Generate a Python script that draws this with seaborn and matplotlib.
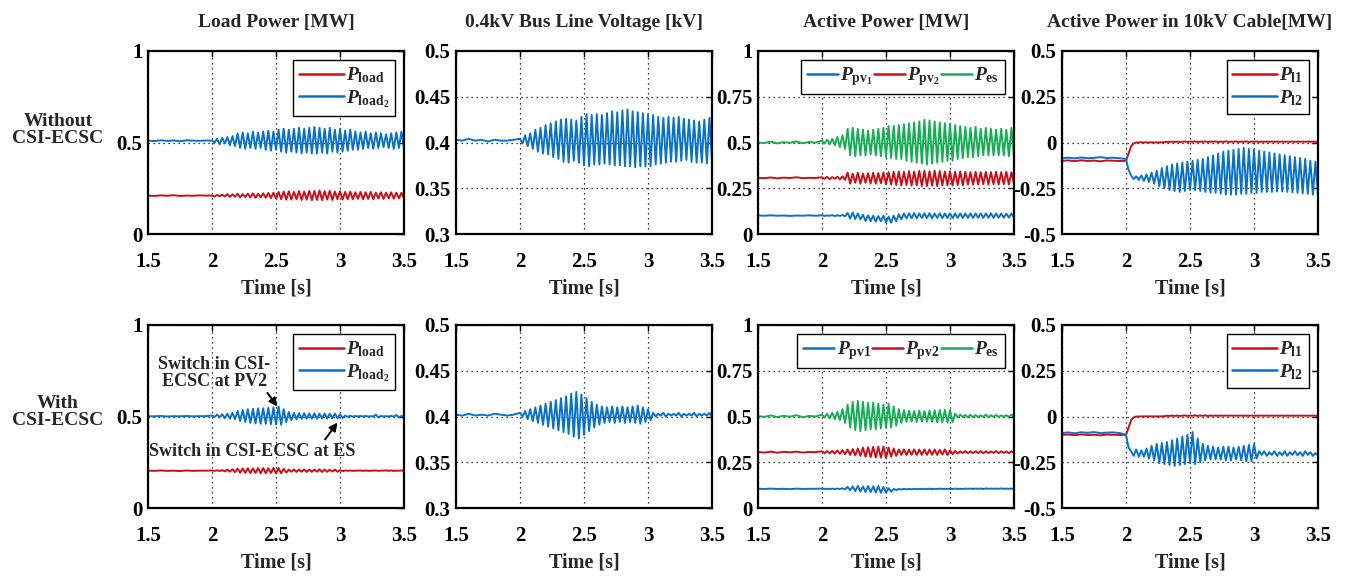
import numpy as np
import pandas as pd
import matplotlib
matplotlib.use("Agg")
import matplotlib.pyplot as plt
import seaborn as sns

# ---------------- data ----------------
T_PRE = [1.50, 1.55, 1.60, 1.65, 1.70, 1.75, 1.80, 1.85, 1.90, 1.95]
T_OSC = list(np.round(np.arange(2.00, 3.5001, 0.02), 3))  # sample times 2.00 ... 3.50

# ---- top row: without CSI-ECSC ----
top_load_pre = [.21, .208, .211, .209, .212, .208, .21, .209, .211, .21]
top_load = [.21, .205, .213, .207, .215, .205, .218, .203, .217, .204,
            .22, .2, .218, .202, .22, .2, .222, .198, .22, .2,
            .222, .198, .224, .196, .226, .193, .23, .19, .232, .188,
            .233, .188, .23, .19, .235, .186, .232, .188, .236, .185,
            .235, .186, .238, .185, .234, .188, .236, .186, .232, .19,
            .234, .188, .23, .19, .232, .19, .228, .192, .23, .19,
            .228, .192, .23, .19, .226, .194, .228, .192, .226, .195,
            .228, .193, .226, .195, .225, .196]
top_load2_pre = [.51, .508, .512, .509, .511, .507, .512, .51, .509, .511]
top_load2 = [.51, .50, .52, .49, .525, .495, .53, .485, .535, .48,
             .55, .47, .555, .465, .55, .47, .56, .465, .555, .47,
             .56, .46, .565, .455, .56, .46, .57, .45, .575, .445,
             .57, .45, .575, .445, .58, .44, .575, .445, .58, .44,
             .585, .44, .58, .445, .575, .44, .58, .45, .57, .445,
             .575, .45, .565, .455, .57, .46, .56, .46, .555, .465,
             .56, .47, .55, .465, .555, .47, .55, .475, .545, .47,
             .55, .465, .555, .47, .56, .47]
top_volt_pre = [.403, .402, .404, .402, .403, .401, .403, .402, .402, .403]
top_volt = [.404, .399, .408, .396, .41, .393, .414, .39, .416, .388,
            .419, .387, .421, .384, .423, .382, .425, .379, .426, .378,
            .425, .38, .424, .378, .428, .375, .431, .374, .43, .376,
            .431, .376, .43, .377, .432, .376, .434, .375, .433, .375,
            .435, .374, .436, .374, .434, .373, .433, .374, .432, .374,
            .431, .374, .43, .376, .428, .377, .427, .378, .428, .379,
            .427, .379, .428, .38, .426, .381, .425, .379, .424, .378,
            .423, .378, .425, .377, .427, .379]
top_pv1_pre = [.101, .1, .102, .1, .101, .099, .101, .1, .102, .1]
top_pv1 = [.102, .099, .101, .1, .103, .098, .102, .099, .104, .097,
           .115, .085, .118, .082, .112, .08, .105, .072, .102, .07,
           .1, .068, .098, .07, .1, .065, .095, .062, .1, .07,
           .108, .08, .112, .085, .113, .087, .114, .086, .112, .088,
           .113, .087, .114, .086, .112, .088, .113, .087, .112, .088,
           .113, .087, .112, .088, .113, .087, .112, .088, .113, .088,
           .112, .089, .113, .088, .112, .089, .113, .088, .112, .089,
           .112, .089, .111, .09, .112, .09]
top_pv2_pre = [.307, .305, .309, .304, .308, .306, .31, .305, .307, .306]
top_pv2 = [.31, .302, .312, .3, .311, .302, .313, .298, .315, .296,
           .335, .275, .33, .28, .335, .275, .33, .28, .332, .276,
           .335, .275, .333, .277, .336, .272, .338, .27, .34, .268,
           .342, .265, .34, .268, .344, .264, .342, .266, .345, .262,
           .345, .262, .343, .264, .346, .262, .344, .265, .342, .266,
           .343, .265, .34, .268, .342, .266, .34, .27, .338, .27,
           .34, .27, .338, .272, .34, .27, .338, .272, .34, .27,
           .338, .272, .34, .27, .338, .275]
top_es_pre = [.5, .497, .505, .495, .502, .498, .506, .496, .503, .499]
top_es = [.51, .495, .515, .49, .52, .485, .53, .475, .54, .465,
          .575, .43, .58, .425, .575, .43, .57, .43, .565, .435,
          .57, .43, .575, .425, .58, .42, .59, .415, .59, .41,
          .595, .41, .6, .4, .605, .395, .61, .39, .615, .385,
          .625, .38, .62, .385, .615, .39, .61, .395, .605, .4,
          .6, .4, .595, .41, .59, .415, .585, .42, .58, .42,
          .585, .425, .575, .43, .58, .43, .575, .43, .57, .43,
          .575, .43, .57, .425, .58, .425]
top_l1_pre = [-.1, -.098, -.102, -.097, -.101, -.099, -.103, -.098, -.1, -.101]
top_l1 = [-.1, -.06, -.02, -.005, 0, 0, .001, 0, .001, 0,
          .001, 0, .001, 0, .001, .002, .004, .003, .005, .003,
          .005, .003, .004, .006, .003, .005, .004, .006, .003, .005,
          .004, .006, .003, .005, .004, .006, .003, .005, .004, .006,
          .003, .005, .004, .006, .003, .005, .004, .006, .003, .005,
          .004, .006, .003, .005, .004, .005, .004, .005, .004, .005,
          .004, .005, .004, .005, .004, .005, .004, .005, .004, .005,
          .004, .005, .004, .005, .004, .005]
top_l2_pre = [-.085, -.083, -.087, -.082, -.086, -.084, -.08, -.085, -.083, -.086]
top_l2 = [-.09, -.15, -.18, -.2, -.185, -.205, -.18, -.21, -.175, -.215,
          -.165, -.225, -.155, -.24, -.14, -.25, -.13, -.26, -.12, -.265,
          -.115, -.27, -.11, -.265, -.105, -.26, -.1, -.26, -.095, -.265,
          -.09, -.27, -.08, -.275, -.07, -.275, -.06, -.28, -.05, -.285,
          -.045, -.285, -.04, -.285, -.035, -.28, -.03, -.28, -.035, -.275,
          -.04, -.275, -.045, -.27, -.05, -.27, -.055, -.27, -.06, -.268,
          -.065, -.268, -.07, -.27, -.075, -.272, -.08, -.275, -.085, -.278,
          -.09, -.28, -.1, -.285, -.105, -.285]

# ---- bottom row: with CSI-ECSC ----
bot_load_pre = [.204, .203, .205, .203, .204, .202, .205, .203, .204, .204]
bot_load = [.205, .203, .206, .202, .207, .2, .21, .198, .212, .196,
            .215, .193, .216, .192, .217, .191, .216, .192, .218, .19,
            .218, .19, .217, .191, .219, .189, .218, .19, .214, .194,
            .21, .198, .211, .197, .21, .198, .211, .197, .21, .198,
            .21, .198, .211, .197, .21, .198, .209, .199, .21, .198,
            .207, .201, .205, .203, .205, .203, .204, .204, .205, .203,
            .205, .203, .204, .204, .205, .203, .204, .204, .206, .203,
            .205, .203, .204, .204, .205, .203]
bot_load2_pre = [.502, .501, .503, .5, .502, .501, .503, .501, .502, .502]
bot_load2 = [.505, .498, .51, .495, .512, .49, .515, .488, .52, .485,
             .53, .475, .535, .47, .54, .465, .542, .462, .545, .46,
             .545, .46, .548, .458, .55, .456, .556, .455, .54, .47,
             .525, .48, .52, .485, .518, .487, .518, .488, .517, .488,
             .517, .488, .516, .489, .516, .489, .515, .49, .516, .49,
             .512, .492, .505, .498, .504, .499, .503, .5, .503, .5,
             .503, .5, .502, .5, .51, .495, .503, .5, .502, .5,
             .503, .499, .508, .496, .503, .5]
bot_volt_pre = [.402, .401, .403, .401, .402, .401, .403, .402, .401, .402]
bot_volt = [.404, .4, .406, .397, .408, .395, .41, .393, .412, .391,
            .414, .389, .416, .387, .418, .385, .42, .383, .422, .381,
            .425, .378, .427, .376, .424, .38, .42, .384, .416, .388,
            .413, .391, .411, .393, .41, .394, .411, .393, .41, .394,
            .411, .393, .41, .394, .411, .393, .412, .392, .41, .394,
            .408, .396, .404, .4, .403, .401, .404, .4, .403, .401,
            .403, .401, .404, .4, .403, .401, .403, .401, .404, .4,
            .403, .401, .403, .401, .404, .4]
bot_pv1_pre = [.105, .104, .106, .104, .105, .103, .106, .104, .105, .105]
bot_pv1 = [.106, .104, .105, .104, .106, .103, .106, .104, .107, .103,
           .115, .097, .118, .093, .12, .09, .118, .088, .12, .087,
           .118, .085, .12, .083, .115, .085, .108, .09, .104, .098,
           .104, .101, .105, .102, .104, .102, .105, .103, .105, .103,
           .105, .103, .106, .103, .105, .104, .106, .104, .105, .104,
           .105, .104, .106, .104, .105, .104, .106, .105, .106, .104,
           .106, .105, .106, .104, .107, .105, .106, .105, .106, .105,
           .107, .105, .106, .105, .106, .105]
bot_pv2_pre = [.306, .303, .308, .302, .307, .304, .308, .303, .306, .305]
bot_pv2 = [.31, .3, .311, .299, .312, .298, .314, .296, .316, .294,
           .32, .29, .322, .288, .325, .285, .33, .28, .332, .278,
           .334, .276, .335, .275, .336, .274, .33, .28, .325, .285,
           .32, .29, .32, .29, .319, .291, .32, .29, .319, .291,
           .32, .29, .319, .291, .32, .29, .318, .292, .32, .29,
           .316, .294, .312, .298, .31, .3, .311, .299, .31, .3,
           .31, .3, .311, .299, .31, .3, .309, .301, .311, .3,
           .31, .301, .309, .3, .31, .3]
bot_es_pre = [.502, .498, .506, .497, .504, .499, .507, .496, .503, .5]
bot_es = [.51, .495, .515, .49, .52, .485, .525, .48, .54, .465,
          .565, .44, .58, .425, .585, .42, .58, .425, .575, .43,
          .575, .43, .57, .435, .565, .44, .57, .44, .555, .45,
          .54, .465, .535, .47, .532, .472, .53, .47, .532, .472,
          .53, .472, .532, .47, .534, .468, .535, .468, .537, .466,
          .535, .47, .515, .495, .51, .497, .508, .496, .51, .495,
          .508, .497, .506, .498, .51, .496, .507, .498, .508, .497,
          .506, .499, .507, .498, .51, .497]
bot_l1_pre = [-.1, -.099, -.102, -.098, -.101, -.1, -.103, -.099, -.1, -.101]
bot_l1 = [-.1, -.06, -.02, -.005, 0, 0, .001, 0, .001, 0,
          .001, 0, .001, 0, .001, .002, .004, .003, .005, .003,
          .005, .003, .004, .006, .003, .005, .004, .006, .003, .005,
          .004, .006, .003, .005, .004, .005, .004, .005, .004, .005,
          .004, .005, .004, .005, .004, .005, .004, .005, .004, .005,
          .004, .005, .004, .005, .004, .005, .004, .005, .004, .005,
          .004, .005, .004, .005, .004, .005, .004, .005, .004, .005,
          .004, .005, .004, .005, .004, .005]
bot_l2_pre = [-.09, -.087, -.092, -.086, -.089, -.085, -.091, -.088, -.087, -.09]
bot_l2 = [-.1, -.17, -.19, -.215, -.18, -.22, -.185, -.22, -.175, -.23,
          -.16, -.24, -.15, -.255, -.145, -.26, -.14, -.265, -.13, -.27,
          -.12, -.265, -.11, -.26, -.1, -.255, -.085, -.26, -.12, -.25,
          -.15, -.24, -.16, -.235, -.165, -.235, -.17, -.235, -.165, -.24,
          -.165, -.24, -.17, -.235, -.165, -.24, -.16, -.245, -.155, -.245,
          -.15, -.23, -.19, -.21, -.19, -.215, -.195, -.21, -.19, -.215,
          -.195, -.212, -.19, -.215, -.195, -.21, -.19, -.212, -.195, -.215,
          -.19, -.21, -.195, -.215, -.2, -.212]

TITLES = ["Load Power [MW]", "0.4kV Bus Line Voltage [kV]",
          "Active Power [MW]", "Active Power in 10kV Cable[MW]"]
ROW_LABELS = ["Without\nCSI-ECSC", "With\nCSI-ECSC"]
X_TICKS = [1.5, 2, 2.5, 3, 3.5]
X_TICKLABELS = ["1.5", "2", "2.5", "3", "3.5"]
Y_TICKS = [[0, 0.5, 1], [0.3, 0.35, 0.4, 0.45, 0.5],
           [0, 0.25, 0.5, 0.75, 1], [-0.5, -0.25, 0, 0.25, 0.5]]
Y_TICKLABELS = [["0", "0.5", "1"], ["0.3", "0.35", "0.4", "0.45", "0.5"],
                ["0", "0.25", "0.5", "0.75", "1"], ["-0.5", "-0.25", "0", "0.25", "0.5"]]

# ---------------- style ----------------
sns.set_style("white")
plt.rcParams["font.family"] = ["Liberation Serif", "DejaVu Serif"]
plt.rcParams["font.weight"] = "bold"
plt.rcParams["mathtext.fontset"] = "custom"
plt.rcParams["mathtext.rm"] = "Liberation Serif:bold"
plt.rcParams["mathtext.bf"] = "Liberation Serif:bold"
plt.rcParams["mathtext.it"] = "Liberation Serif:italic:bold"

BLUE = "#0A72C4"
RED = "#C8101A"
GREEN = "#17AD55"

fig = plt.figure(figsize=(13.49, 5.77), dpi=100)
W, H = 1349, 577
col_left = [148, 456, 758, 1062]
row_top = [51, 325]
ax_w, ax_h = 256, 183

rows = [
    [  # top
        [("$P_{\\mathrm{load}}$", RED, top_load_pre, top_load),
         ("$P_{\\mathrm{load}_{2}}$", BLUE, top_load2_pre, top_load2)],
        [(None, BLUE, top_volt_pre, top_volt)],
        [("$P_{\\mathrm{pv}_{1}}$", BLUE, top_pv1_pre, top_pv1),
         ("$P_{\\mathrm{pv}_{2}}$", RED, top_pv2_pre, top_pv2),
         ("$P_{\\mathrm{es}}$", GREEN, top_es_pre, top_es)],
        [("$P_{\\mathrm{l1}}$", RED, top_l1_pre, top_l1),
         ("$P_{\\mathrm{l2}}$", BLUE, top_l2_pre, top_l2)],
    ],
    [  # bottom
        [("$P_{\\mathrm{load}}$", RED, bot_load_pre, bot_load),
         ("$P_{\\mathrm{load}_{2}}$", BLUE, bot_load2_pre, bot_load2)],
        [(None, BLUE, bot_volt_pre, bot_volt)],
        [("$P_{\\mathrm{pv1}}$", BLUE, bot_pv1_pre, bot_pv1),
         ("$P_{\\mathrm{pv2}}$", RED, bot_pv2_pre, bot_pv2),
         ("$P_{\\mathrm{es}}$", GREEN, bot_es_pre, bot_es)],
        [("$P_{\\mathrm{l1}}$", RED, bot_l1_pre, bot_l1),
         ("$P_{\\mathrm{l2}}$", BLUE, bot_l2_pre, bot_l2)],
    ],
]

TICK_FS = 15
for r in range(2):
    for c in range(4):
        x0 = col_left[c] / W
        y0 = 1 - (row_top[r] + ax_h) / H
        ax = fig.add_axes([x0, y0, ax_w / W, ax_h / H])
        for (lab, colr, pre, osc) in rows[r][c]:
            df = pd.DataFrame({"t": T_PRE + T_OSC, "v": pre + osc})
            sns.lineplot(data=df, x="t", y="v", ax=ax, color=colr, lw=1.4,
                         estimator=None, sort=False, label=lab)
        ax.set_xlim(1.5, 3.5)
        ax.set_ylim(Y_TICKS[c][0], Y_TICKS[c][-1])
        ax.set_xticks(X_TICKS)
        ax.set_xticklabels(X_TICKLABELS)
        ax.set_yticks(Y_TICKS[c])
        ax.set_yticklabels(Y_TICKLABELS[c])
        ax.grid(True, color="black", linestyle=(0, (1, 3)), linewidth=0.9)
        ax.tick_params(direction="in", length=4, width=1, top=True, right=True,
                       labelsize=TICK_FS, colors="black")
        ax.tick_params(axis="x", pad=13)
        ax.tick_params(axis="y", pad=4)
        for s in ax.spines.values():
            s.set_linewidth(1.6)
            s.set_color("black")
        ax.set_xlabel("Time [s]", fontsize=14.5, fontweight="bold", labelpad=5)
        ax.set_ylabel("")
        if r == 0:
            ax.set_title(TITLES[c], fontsize=14, fontweight="bold", pad=17)
        # legends
        if c == 1:
            if ax.get_legend():
                ax.get_legend().remove()
        else:
            handles, labels = ax.get_legend_handles_labels()
            kw = dict(loc="upper right", fontsize=14, frameon=True, fancybox=False,
                      framealpha=1, edgecolor="black", borderaxespad=0.45,
                      handletextpad=0.12, borderpad=0.3, labelspacing=0.15)
            if c == 2:
                leg = ax.legend(handles, labels, ncol=3, handlelength=1.6,
                                columnspacing=0.05, **kw)
            else:
                leg = ax.legend(handles, labels, ncol=1, handlelength=2.3, **kw)
            leg.get_frame().set_linewidth(1.0)
            leg.set_zorder(1)
            for ln in leg.get_lines():
                ln.set_linewidth(1.8)
        if r == 1 and c == 0:
            ax.annotate("Switch in CSI-\nECSC at PV2", xy=(2.51, 0.555),
                        xytext=(2.02, 0.74), ha="center", va="center",
                        fontsize=13, fontweight="bold", linespacing=1.0,
                        zorder=5,
                        arrowprops=dict(arrowstyle="-|>", color="black", lw=1.4,
                                        mutation_scale=12, shrinkA=0, shrinkB=0,
                                        relpos=(0.95, 0.0)))
            ax.annotate("Switch in CSI-ECSC at ES", xy=(2.98, 0.467),
                        xytext=(1.51, 0.31), ha="left", va="center",
                        fontsize=13, fontweight="bold", zorder=5,
                        arrowprops=dict(arrowstyle="-|>", color="black", lw=1.4,
                                        mutation_scale=12, shrinkA=0, shrinkB=0,
                                        relpos=(0.84, 1.0)))

fig.text(58 / W, 1 - 130 / H, ROW_LABELS[0], ha="center", va="center",
         fontsize=14, fontweight="bold", linespacing=1.05)
fig.text(58 / W, 1 - 412 / H, ROW_LABELS[1], ha="center", va="center",
         fontsize=14, fontweight="bold", linespacing=1.05)

fig.savefig("out.png", dpi=100)
